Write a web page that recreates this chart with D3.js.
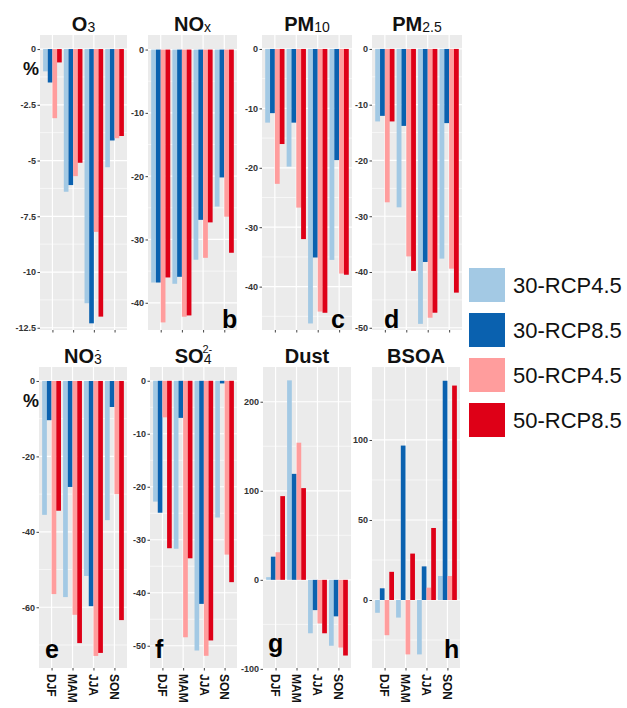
<!DOCTYPE html>
<html>
<head>
<meta charset="utf-8">
<script src="https://cdn.jsdelivr.net/npm/d3@7"></script>
<style>
  body { margin: 0; background: #fff; }
  text { font-family: "Liberation Sans", Arial, sans-serif; }
</style>
</head>
<body>
<svg id="fig" width="627" height="708"></svg>
<script>
// seasons on the x axis, scenarios = the 4 dodged bars
var seasons = ["DJF", "MAM", "JJA", "SON"];
var scenarios = ["30-RCP4.5", "30-RCP8.5", "50-RCP4.5", "50-RCP8.5"];
var colors = ["#a3c9e4", "#0a61af", "#ff9d9d", "#de0017"];

// % change, one row per season, values in scenario order
var o3   = [[-1.0, -1.5, -3.1, -0.6], [-6.4, -6.1, -5.7, -5.1], [-11.4, -12.3, -8.2, -12.0], [-5.3, -4.1, -4.0, -3.9]];
var nox  = [[-36.8, -36.8, -43.1, -36.0], [-37.0, -35.9, -42.2, -42.0], [-33.2, -26.9, -32.9, -27.3], [-24.8, -20.2, -26.4, -32.1]];
var pm10 = [[-12.4, -10.8, -22.7, -16.0], [-19.8, -12.4, -26.7, -32.0], [-46.2, -35.1, -44.2, -44.4], [-35.5, -18.7, -37.8, -38.0]];
var pm25 = [[-13.0, -12.0, -27.5, -13.0], [-28.4, -13.8, -37.2, -39.8], [-49.3, -38.2, -48.2, -47.3], [-37.6, -13.3, -39.4, -43.7]];
var no3  = [[-35.5, -10.4, -56.5, -34.4], [-57.3, -28.1, -62.0, -69.5], [-51.7, -59.7, -72.9, -72.1], [-36.9, -6.9, -30.0, -63.4]];
var so4  = [[-22.8, -24.9, -6.9, -31.6], [-31.7, -7.0, -48.4, -33.5], [-50.9, -42.1, -51.9, -49.0], [-25.8, -0.5, -32.8, -38.0]];
var dust = [[3, 26, 31, 94], [224, 119, 154, 103], [-60, -34, -49, -60], [-74, -41, -76, -85]];
var bsoa = [[-8, 7.3, -22, 17.6], [-11, 96.5, -34, 29], [-34, 21, 7.7, 45], [15, 137, 15, 134]];

// y tick values
var o3Ticks   = [0, -2.5, -5, -7.5, -10, -12.5];
var noxTicks  = [0, -10, -20, -30, -40];
var pm10Ticks = [0, -10, -20, -30, -40];
var pm25Ticks = [0, -10, -20, -30, -40, -50];
var no3Ticks  = [0, -20, -40, -60];
var so4Ticks  = [0, -10, -20, -30, -40, -50];
var dustTicks = [200, 100, 0, -100];
var bsoaTicks = [100, 50, 0];

var svg = d3.select("#fig");

// panel layout
var top0 = 35, top1 = 330, bot0 = 367, bot1 = 668;
var panels = [
  {data: o3,   ticks: o3Ticks,   dom: [-12.6, 0.63],  x0: 40,  x1: 127, y0: top0, y1: top1, title: ["O", "3"], letter: ""},
  {data: nox,  ticks: noxTicks,  dom: [-44.3, 2.3],   x0: 148, x1: 237, y0: top0, y1: top1, title: ["NO", "x"], letter: "b", lx: 222, ly: 328},
  {data: pm10, ticks: pm10Ticks, dom: [-47.3, 2.35],  x0: 262, x1: 352, y0: top0, y1: top1, title: ["PM", "10"], letter: "c", lx: 331, ly: 328},
  {data: pm25, ticks: pm25Ticks, dom: [-50.4, 2.5],   x0: 372, x1: 462, y0: top0, y1: top1, title: ["PM", "2.5"], letter: "d", lx: 384, ly: 328},
  {data: no3,  ticks: no3Ticks,  dom: [-76.1, 3.7],   x0: 39,  x1: 127, y0: bot0, y1: bot1, title: ["NO", "3", "-"], letter: "e", lx: 45, ly: 658, xlab: true},
  {data: so4,  ticks: so4Ticks,  dom: [-54.2, 2.6],   x0: 150, x1: 237, y0: bot0, y1: bot1, title: ["SO", "4", "2-"], letter: "f", lx: 155, ly: 658, xlab: true},
  {data: dust, ticks: dustTicks, dom: [-99, 239],     x0: 263, x1: 351, y0: bot0, y1: bot1, title: ["Dust"], letter: "g", lx: 268, ly: 652, xlab: true},
  {data: bsoa, ticks: bsoaTicks, dom: [-42.5, 145.6], x0: 372, x1: 460, y0: bot0, y1: bot1, title: ["BSOA"], letter: "h", lx: 444, ly: 658, xlab: true}
];

function drawPanel(p) {
  var g = svg.append("g");
  var x = d3.scalePoint().domain(seasons).range([p.x0, p.x1]).padding(0.6);
  var step = x.step();
  var xs = d3.scaleBand().domain(scenarios).range([-0.45 * step, 0.45 * step]);
  var y = d3.scaleLinear().domain(p.dom).range([p.y1, p.y0]);

  g.append("rect").attr("x", p.x0).attr("y", p.y0)
    .attr("width", p.x1 - p.x0).attr("height", p.y1 - p.y0).attr("fill", "#ebebeb");

  // minor grid at half steps
  var st = Math.abs(p.ticks[1] - p.ticks[0]) / 2;
  var minor = d3.range(Math.ceil(p.dom[0] / st), Math.floor(p.dom[1] / st) + 1)
    .filter(function(k) { return Math.abs(k) % 2 === 1; })
    .map(function(k) { return k * st; });
  g.selectAll(".minor").data(minor).enter().append("line")
    .attr("x1", p.x0).attr("x2", p.x1)
    .attr("y1", y).attr("y2", y)
    .attr("stroke", "#fff").attr("stroke-width", 0.6);
  g.selectAll(".major").data(p.ticks).enter().append("line")
    .attr("x1", p.x0).attr("x2", p.x1)
    .attr("y1", y).attr("y2", y)
    .attr("stroke", "#fff").attr("stroke-width", 1.2);
  g.selectAll(".vgrid").data(seasons).enter().append("line")
    .attr("x1", x).attr("x2", x)
    .attr("y1", p.y0).attr("y2", p.y1)
    .attr("stroke", "#fff").attr("stroke-width", 1.2);

  // bars
  p.data.forEach(function(row, i) {
    g.selectAll(null).data(row).enter().append("rect")
      .attr("x", function(d, j) { return x(seasons[i]) + xs(scenarios[j]); })
      .attr("width", xs.bandwidth())
      .attr("y", function(d) { return Math.min(y(0), y(d)); })
      .attr("height", function(d) { return Math.abs(y(d) - y(0)); })
      .attr("fill", function(d, j) { return colors[j]; });
  });

  // axes
  var ya = g.append("g").attr("transform", "translate(" + p.x0 + ",0)")
    .call(d3.axisLeft(y).tickValues(p.ticks).tickSize(2.5).tickPadding(1.5)
      .tickFormat(function(d) { return String(d); }));
  ya.select(".domain").remove();
  ya.selectAll("line").attr("stroke", "#444");
  ya.selectAll("text").attr("font-size", 9).attr("font-weight", "bold")
    .attr("fill", "#333").style("font-family", "Liberation Sans, Arial, sans-serif");

  var xa = g.append("g").attr("transform", "translate(0," + p.y1 + ")")
    .call(d3.axisBottom(x).tickSize(2.5).tickFormat(""));
  xa.select(".domain").remove();
  xa.selectAll("line").attr("stroke", "#444");
  if (p.xlab) {
    g.selectAll(".xl").data(seasons).enter().append("text")
      .attr("transform", function(d) { return "translate(" + x(d) + "," + (p.y1 + 6) + ") rotate(90)"; })
      .attr("dy", "0.36em")
      .attr("font-size", 12).attr("font-weight", "bold").attr("fill", "#111")
      .text(function(d) { return d; });
  }

  // title, sub/superscripts as tspans of one text
  var cx = (p.x0 + p.x1) / 2;
  var ty = p.y0 === top0 ? 31 : 363;
  var t = g.append("text").attr("x", cx).attr("y", ty).attr("text-anchor", "middle")
    .attr("font-size", 20).attr("font-weight", "bold").attr("fill", "#111");
  t.append("tspan").text(p.title[0]);
  if (p.title.length > 1) {
    t.append("tspan").attr("font-size", 14).attr("font-weight", "normal").attr("dy", 1).text(p.title[1]);
  }
  if (p.title.length > 2) {
    t.append("tspan").attr("font-size", 11).attr("font-weight", "normal")
      .attr("dx", p.title[2].length > 1 ? -9 : -6).attr("dy", -11).text(p.title[2]);
  }

  if (p.letter) {
    g.append("text").attr("x", p.lx).attr("y", p.ly)
      .attr("font-size", 25).attr("font-weight", "bold").attr("fill", "#000")
      .text(p.letter);
  }
}

panels.forEach(drawPanel);

// % labels
[[23, 75], [23, 407]].forEach(function(pos) {
  svg.append("text").attr("x", pos[0]).attr("y", pos[1])
    .attr("font-size", 18).attr("font-weight", "bold").attr("fill", "#111").text("%");
});

// legend
var leg = svg.append("g").attr("transform", "translate(469,268)");
var li = leg.selectAll("g").data(scenarios).enter().append("g")
  .attr("transform", function(d, i) { return "translate(0," + (i * 45) + ")"; });
li.append("rect").attr("width", 36).attr("height", 34)
  .attr("fill", function(d, i) { return colors[i]; });
li.append("text").attr("x", 44).attr("y", 17).attr("dy", "0.36em")
  .attr("font-size", 22).attr("fill", "#111")
  .text(function(d) { return d; });
</script>
</body>
</html>
